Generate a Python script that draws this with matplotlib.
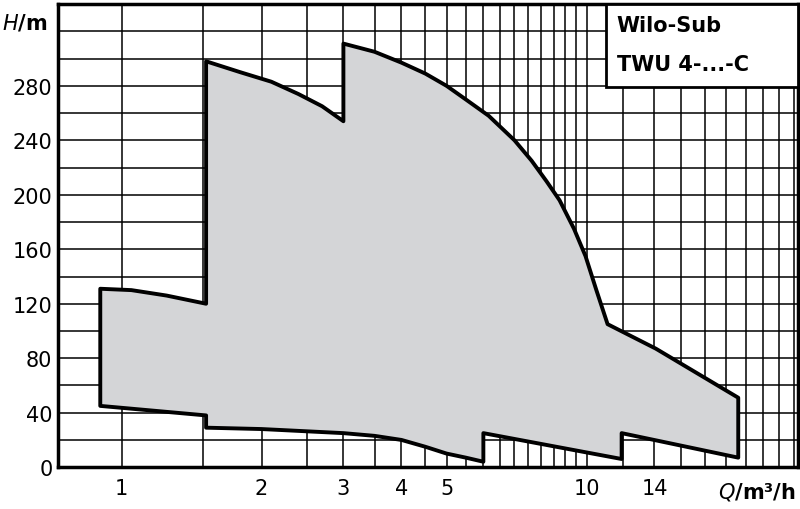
import matplotlib
matplotlib.use("Agg")
import matplotlib.pyplot as plt
from matplotlib.patches import Polygon, Rectangle
from matplotlib.ticker import FixedLocator, NullFormatter

# outline of the operating range (Q in m3/h, H in m), traced clockwise
Q = [0.9, 1.05, 1.25, 1.52, 1.52, 1.8, 2.1, 2.4, 2.7, 3.0, 3.0, 3.5, 4.0, 4.5, 5.0, 5.5, 6.16, 7.0,
     7.62, 8.2, 8.75, 9.4, 9.95, 10.5, 11.1, 14.1, 21.2,
     21.2, 11.9, 11.9, 6.0, 6.0, 5.5, 5.0, 4.5, 4.0, 3.5, 3.0, 2.0, 1.52, 1.52, 0.9]
H = [131, 130, 126, 120, 298, 290, 283, 274, 265, 254, 311, 305, 297, 289, 280, 270, 258, 240,
     225, 210, 196, 175, 155, 130, 105, 87, 51,
     7, 25, 6, 25, 4, 7, 10, 15, 20, 23, 25, 28, 29, 38, 45]

xtick_vals = [1, 2, 3, 4, 5, 10, 14]
xtick_labels = ["1", "2", "3", "4", "5", "10", "14"]
xgrid = [1, 1.5, 2, 2.5, 3, 3.5, 4, 4.5, 5, 5.5, 6, 6.5, 7, 7.5, 8, 8.5, 9, 9.5, 10,
         12, 14, 16, 18, 20, 22, 24, 26, 28]
ytick_vals = list(range(0, 281, 40))
ygrid = list(range(0, 341, 20))

plt.rcParams['font.family'] = ['DejaVu Sans']
fig = plt.figure(figsize=(8, 5.1), dpi=100)
ax = fig.add_axes([0.0725, 0.082, 0.925, 0.908])
ax.set_xscale('log')
ax.set_xlim(0.73, 28.5)
ax.set_ylim(0, 340)

ax.xaxis.set_major_locator(FixedLocator(xgrid))
ax.xaxis.set_minor_locator(FixedLocator([]))
ax.xaxis.set_major_formatter(NullFormatter())
ax.xaxis.set_minor_formatter(NullFormatter())
ax.yaxis.set_major_locator(FixedLocator(ygrid))
ax.set_yticklabels([str(v) if v in ytick_vals else "" for v in ygrid])
ax.tick_params(length=0, labelsize=15, pad=4)
ax.grid(True, color='black', lw=1.1)
ax.set_axisbelow(True)
for s in ax.spines.values():
    s.set_linewidth(2.5)

for v, l in zip(xtick_vals, xtick_labels):
    ax.text(v, -8, l, ha='center', va='top', fontsize=15, transform=ax.transData)

poly = Polygon(list(zip(Q, H)), closed=True, facecolor='#d4d5d7', edgecolor='black', lw=2.8, zorder=3, joinstyle='round')
ax.add_patch(poly)

box = Rectangle((0.741, 0.82), 0.259, 0.18, transform=ax.transAxes, facecolor='white', edgecolor='black', lw=2, zorder=5)
ax.add_patch(box)
ax.text(0.755, 0.955, "Wilo-Sub", transform=ax.transAxes, fontsize=15, fontweight='bold', va='center', zorder=6)
ax.text(0.755, 0.87, "TWU 4-...-C", transform=ax.transAxes, fontsize=15, fontweight='bold', va='center', zorder=6)

fig.text(0.002, 0.955, r"$\bf{\it{H}}$/m", fontsize=15, fontweight='bold', va='center')
fig.text(0.995, 0.035, r"$\bf{\it{Q}}$/m³/h", fontsize=15, fontweight='bold', ha='right', va='center')

fig.savefig("out.png", dpi=100)
